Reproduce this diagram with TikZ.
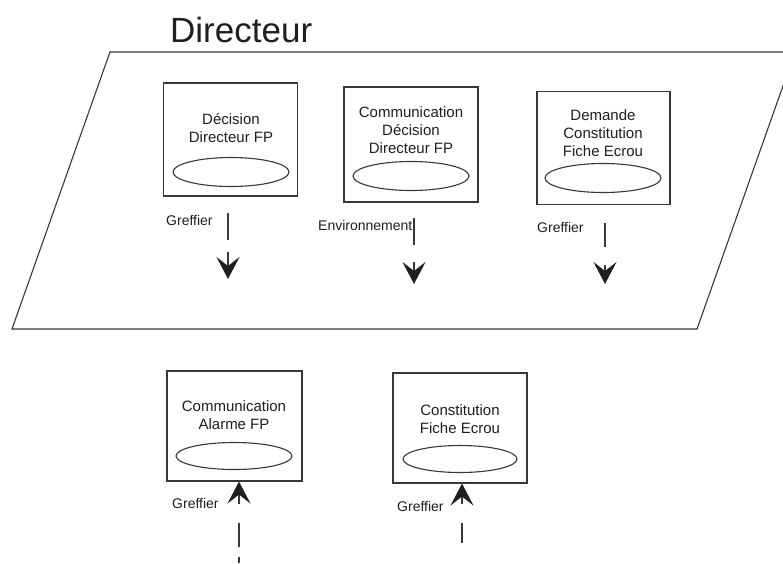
\documentclass[tikz,border=0pt]{standalone}
\usepackage{fontspec}
\setmainfont{Liberation Sans}
\usetikzlibrary{arrows.meta, shapes.geometric}

\definecolor{trait}{gray}{0.22}
\definecolor{encre}{gray}{0.12}

\tikzstyle{bloc} = [rectangle, draw=trait, line width=1.1pt, minimum width=134pt, minimum height=113pt]
\tikzstyle{libelle} = [align=center, text=encre, font=\fontsize{15}{18}\selectfont, inner sep=0pt]
\tikzstyle{ovale} = [ellipse, draw=trait, line width=1.1pt, minimum width=116pt, minimum height=29pt, inner sep=0pt]
\tikzstyle{acteur} = [text=encre, font=\fontsize{14}{15}\selectfont, inner sep=0pt, anchor=west]
\tikzstyle{flux} = [draw=trait, line width=1.2pt, -{Stealth[length=22pt, width=23pt, inset=9pt, line width=1.5pt, color=encre, fill=encre]}]

\begin{document}
\begin{tikzpicture}[x=1pt, y=-1pt]

    \fill[white] (0,0) rectangle (783,563);
    \clip (0,0) rectangle (783,563);

    %  titre et domaine
    \node[anchor=base west, inner sep=0pt, text=encre, font=\fontsize{35}{40}\selectfont] (T) at (170,42) {Directeur};
    \draw[trait, line width=1.1pt] (110,52) -- (795,52) -- (697,329) -- (12,329) -- cycle;

   %-------------------------------------------------------------
    \node[bloc] (dec) at (230.5,139.5) {};
    \node[libelle] (decT) at (231,128.5) {Décision\\Directeur FP};
    \node[ovale] (decE) at (231,172) {};

    \node[bloc, minimum height=115pt] (com) at (411,144.5) {};
    \node[libelle] (comT) at (411,130) {Communication\\Décision\\Directeur FP};
    \node[ovale] (comE) at (411,176) {};

    \node[bloc, minimum width=133pt] (dem) at (603.5,148) {};
    \node[libelle] (demT) at (603,133.5) {Demande\\Constitution\\Fiche Ecrou};
    \node[ovale] (demE) at (603,178) {};

    \node[acteur] (g1) at (166,220) {Greffier};
    \node[acteur] (env) at (318,225) {Environnement};
    \node[acteur] (g3) at (537,227) {Greffier};

    \coordinate (f1a) at (228,213);
    \coordinate (f1b) at (228,279);
    \coordinate (f2a) at (414,218);
    \coordinate (f2b) at (414,284);
    \coordinate (f3a) at (605,223);
    \coordinate (f3b) at (605,284);

    \draw[flux, dash pattern=on 27pt off 12pt on 60pt] (f1a) -- (f1b);
    \draw[flux, dash pattern=on 27pt off 17pt on 60pt] (f2a) -- (f2b);
    \draw[flux, dash pattern=on 24pt off 18pt on 60pt] (f3a) -- (f3b);

   %-------------------------------------------------------------
    \node[bloc, minimum width=135pt, minimum height=110pt] (ala) at (234.5,426) {};
    \node[libelle] (alaT) at (234,415) {Communication\\Alarme FP};
    \node[ovale, minimum height=27pt] (alaE) at (234,456) {};

    \node[bloc, minimum height=110pt] (cfe) at (460,428) {};
    \node[libelle] (cfeT) at (460,419) {Constitution\\Fiche Ecrou};
    \node[ovale, minimum width=114pt, minimum height=27pt] (cfeE) at (460,459) {};

    \node[acteur] (g4) at (172,503) {Greffier};
    \node[acteur] (g5) at (397,506) {Greffier};

    \coordinate (f4a) at (239,563);
    \coordinate (f5a) at (462,543);

    \draw[flux, dash pattern=on 6pt off 10pt on 24pt off 19pt on 60pt] (f4a) -- (f4a |- ala.south);
    \draw[flux, dash pattern=on 20pt off 19pt on 60pt] (f5a) -- (f5a |- cfe.south);

\end{tikzpicture}
\end{document}
